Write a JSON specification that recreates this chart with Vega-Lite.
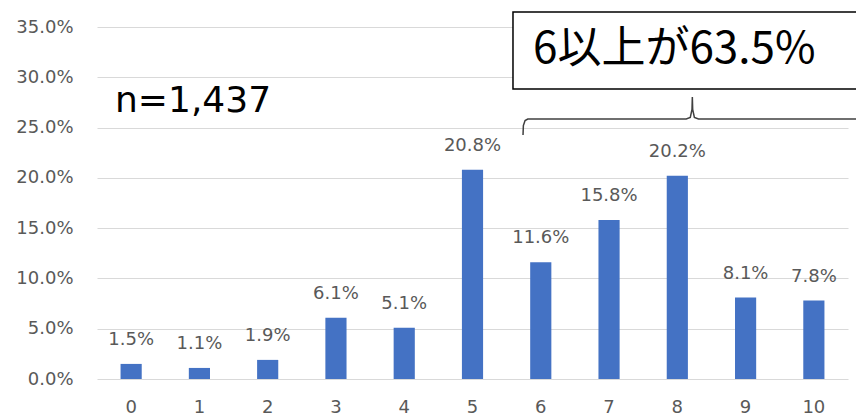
{
  "$schema": "https://vega.github.io/schema/vega-lite/v6.json",
  "width": 751,
  "height": 352,
  "autosize": {"type": "none"},
  "padding": {"left": 97, "top": 27, "right": 8, "bottom": 40},
  "background": "white",
  "config": {"view": {"stroke": null}, "font": "DejaVu Sans"},
  "datasets": {
    "bars": [
      {"cat": 0, "value": 0.015},
      {"cat": 1, "value": 0.011},
      {"cat": 2, "value": 0.019},
      {"cat": 3, "value": 0.061},
      {"cat": 4, "value": 0.051},
      {"cat": 5, "value": 0.208},
      {"cat": 6, "value": 0.116},
      {"cat": 7, "value": 0.158},
      {"cat": 8, "value": 0.202},
      {"cat": 9, "value": 0.081},
      {"cat": 10, "value": 0.078}
    ],
    "brace": [
      {"i": 0, "u": 5.74, "v": 0.2426},
      {"i": 1, "u": 5.745, "v": 0.252},
      {"i": 2, "u": 5.77, "v": 0.257},
      {"i": 3, "u": 5.81, "v": 0.2585},
      {"i": 4, "u": 8.13, "v": 0.2585},
      {"i": 5, "u": 8.19, "v": 0.26},
      {"i": 6, "u": 8.215, "v": 0.268},
      {"i": 7, "u": 8.22, "v": 0.2804},
      {"i": 8, "u": 8.225, "v": 0.268},
      {"i": 9, "u": 8.25, "v": 0.26},
      {"i": 10, "u": 8.31, "v": 0.2585},
      {"i": 11, "u": 10.7, "v": 0.2585}
    ],
    "box": [{"u": 5.593, "u2": 10.72, "v": 0.3649, "v2": 0.2884}],
    "boxText": [{"u": 5.886, "v": 0.327, "t": "6以上が63.5%"}],
    "nText": [{"u": -0.236, "v": 0.276, "t": "n=1,437"}]
  },
  "resolve": {"scale": {"x": "independent"}},
  "layer": [
    {
      "data": {"name": "bars"},
      "encoding": {
        "x": {
          "field": "cat",
          "type": "ordinal",
          "scale": {"type": "band", "paddingInner": 0, "paddingOuter": 0},
          "axis": {"title": null, "labelAngle": 0, "domain": false, "ticks": false, "labelFontSize": 18, "labelColor": "#595959", "labelPadding": 19}
        },
        "y": {
          "field": "value",
          "type": "quantitative",
          "scale": {"domain": [0, 0.35], "nice": false},
          "axis": {"title": null, "values": [0, 0.05, 0.1, 0.15, 0.2, 0.25, 0.3, 0.35], "format": ".1%", "grid": true, "gridColor": "#d9d9d9", "gridWidth": 1, "domain": false, "ticks": false, "labelPadding": 24, "labelFontSize": 18, "labelColor": "#595959"}
        }
      },
      "layer": [
        {"mark": {"type": "bar", "color": "#4472C4", "width": {"band": 0.31}}},
        {
          "mark": {"type": "text", "baseline": "bottom", "dy": -15, "fontSize": 18, "color": "#595959"},
          "encoding": {"text": {"field": "value", "type": "quantitative", "format": ".1%"}}
        }
      ]
    },
    {
      "data": {"name": "brace"},
      "mark": {"type": "line", "color": "#404040", "strokeWidth": 1.5},
      "encoding": {
        "x": {"field": "u", "type": "quantitative", "scale": {"domain": [-0.5, 10.5], "nice": false, "zero": false}, "axis": null},
        "y": {"field": "v", "type": "quantitative"},
        "order": {"field": "i", "type": "quantitative"}
      }
    },
    {
      "data": {"name": "box"},
      "mark": {"type": "rect", "fill": "white", "stroke": "black", "strokeWidth": 1.5},
      "encoding": {
        "x": {"field": "u", "type": "quantitative", "scale": {"domain": [-0.5, 10.5], "nice": false, "zero": false}, "axis": null},
        "x2": {"field": "u2"},
        "y": {"field": "v", "type": "quantitative"},
        "y2": {"field": "v2"}
      }
    },
    {
      "data": {"name": "boxText"},
      "mark": {"type": "text", "align": "left", "baseline": "middle", "font": "Noto Sans CJK JP", "fontSize": 44, "color": "black"},
      "encoding": {
        "x": {"field": "u", "type": "quantitative", "scale": {"domain": [-0.5, 10.5], "nice": false, "zero": false}, "axis": null},
        "y": {"field": "v", "type": "quantitative"},
        "text": {"field": "t"}
      }
    },
    {
      "data": {"name": "nText"},
      "mark": {"type": "text", "align": "left", "baseline": "middle", "fontSize": 36, "color": "black"},
      "encoding": {
        "x": {"field": "u", "type": "quantitative", "scale": {"domain": [-0.5, 10.5], "nice": false, "zero": false}, "axis": null},
        "y": {"field": "v", "type": "quantitative"},
        "text": {"field": "t"}
      }
    }
  ]
}
